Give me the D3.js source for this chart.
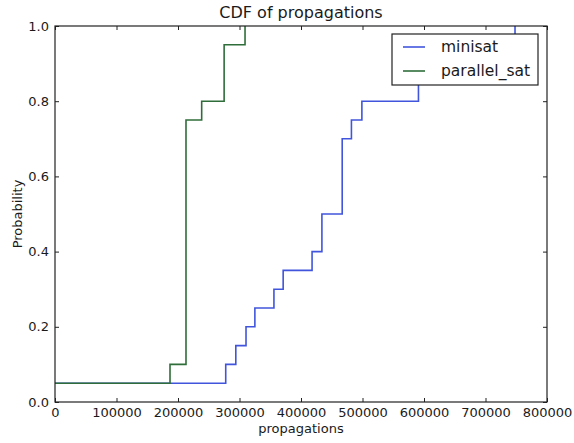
<!DOCTYPE html>
<html>
<head>
<meta charset="utf-8">
<script src="https://cdn.jsdelivr.net/npm/d3@7"></script>
<style>
  body { margin: 0; background: #fff; }
  text { font-family: "DejaVu Sans", sans-serif; fill: #1a1a1a; }
</style>
</head>
<body>
<div id="chart"></div>
<script>
// step positions
var minisatX = [0, 277600, 294000, 310600, 325000, 356000, 371000, 418000, 434000, 467000, 482000, 499000, 591000, 640000, 700000, 748000];
var minisatY = [0.05, 0.10, 0.15, 0.20, 0.25, 0.30, 0.35, 0.40, 0.50, 0.70, 0.75, 0.80, 0.85, 0.90, 0.95, 1.00];
var parallelX = [0, 187000, 213000, 238500, 275000, 309000];
var parallelY = [0.05, 0.10, 0.75, 0.80, 0.95, 1.00];

var seriesNames = ["minisat", "parallel_sat"];
var seriesColours = ["#4055dc", "#2f6e3a"];
var xTicks = [0, 100000, 200000, 300000, 400000, 500000, 600000, 700000, 800000];
var yTicks = [0.0, 0.2, 0.4, 0.6, 0.8, 1.0];

// note: "top" is taken by window.top, so plot edges get their own names
var w = 574,
    h = 443,
    plotL = 55,
    plotR = 547,
    plotT = 26,
    plotB = 402;

var svg = d3.select("#chart")
            .append("svg")
            .attr("width", w)
            .attr("height", h);

var xScale = d3.scaleLinear().domain([0, 800000]).range([plotL, plotR]),
    yScale = d3.scaleLinear().domain([0, 1]).range([plotB, plotT]);

svg.append("clipPath").attr("id", "plotclip")
   .append("rect")
   .attr("x", plotL).attr("y", plotT - 1)
   .attr("width", plotR - plotL).attr("height", plotB - plotT + 2);

var line = d3.line()
  .x(function(d){ return xScale(d[0]); })
  .y(function(d){ return yScale(d[1]); })
  .curve(d3.curveStepAfter);

function pairs(xs, ys){
  return xs.map(function(x, i){ return [x, ys[i]]; });
}

var series = [pairs(minisatX, minisatY), pairs(parallelX, parallelY)];

// minisat first so parallel_sat sits on top along 0.05
series.forEach(function(s, i){
  svg.append("path")
     .datum(s)
     .attr("clip-path", "url(#plotclip)")
     .attr("fill", "none")
     .attr("stroke", seriesColours[i])
     .attr("stroke-width", 1.6)
     .attr("d", line);
});

// axes, ticks pointing inwards, mirrored on top and right
var fmt = function(d){ return d3.format("d")(d); };
var xAxisB = d3.axisBottom(xScale).tickValues(xTicks).tickSizeInner(-4).tickSizeOuter(0).tickPadding(6).tickFormat(fmt),
    xAxisT = d3.axisTop(xScale).tickValues(xTicks).tickSizeInner(-4).tickSizeOuter(0).tickFormat(""),
    yAxisL = d3.axisLeft(yScale).tickValues(yTicks).tickSizeInner(-4).tickSizeOuter(0).tickPadding(6).tickFormat(d3.format(".1f")),
    yAxisR = d3.axisRight(yScale).tickValues(yTicks).tickSizeInner(-4).tickSizeOuter(0).tickFormat("");

svg.append("g").attr("transform", "translate(0," + plotB + ")").call(xAxisB);
svg.append("g").attr("transform", "translate(0," + plotT + ")").call(xAxisT);
svg.append("g").attr("transform", "translate(" + plotL + ",0)").call(yAxisL);
svg.append("g").attr("transform", "translate(" + plotR + ",0)").call(yAxisR);

svg.selectAll(".domain").remove();
svg.selectAll(".tick line").attr("stroke", "#222");
svg.selectAll(".tick text").style("font-size", "13px").attr("fill", "#1a1a1a");

// frame
svg.append("rect")
   .attr("x", plotL).attr("y", plotT)
   .attr("width", plotR - plotL).attr("height", plotB - plotT)
   .attr("fill", "none").attr("stroke", "#222").attr("stroke-width", 1.2);

// legend
var lg = svg.append("g");
lg.append("rect")
  .attr("x", 392).attr("y", 34).attr("width", 146).attr("height", 51)
  .attr("fill", "#fff").attr("stroke", "#222").attr("stroke-width", 1.2);
seriesNames.forEach(function(n, i){
  var yy = 47 + i * 24;
  lg.append("line")
    .attr("x1", 403).attr("x2", 425).attr("y1", yy).attr("y2", yy)
    .attr("stroke", seriesColours[i]).attr("stroke-width", 1.6);
  lg.append("text")
    .attr("x", 441).attr("y", yy).attr("dy", "0.35em")
    .style("font-size", "15.5px")
    .text(n);
});

// titles
svg.append("text").attr("x", (plotL + plotR) / 2).attr("y", 18)
   .attr("text-anchor", "middle").style("font-size", "16px")
   .text("CDF of propagations");
svg.append("text").attr("x", (plotL + plotR) / 2).attr("y", 433)
   .attr("text-anchor", "middle").style("font-size", "13px")
   .text("propagations");
svg.append("text")
   .attr("transform", "translate(22," + ((plotT + plotB) / 2) + ") rotate(-90)")
   .attr("text-anchor", "middle").style("font-size", "13px")
   .text("Probability");
</script>
</body>
</html>
